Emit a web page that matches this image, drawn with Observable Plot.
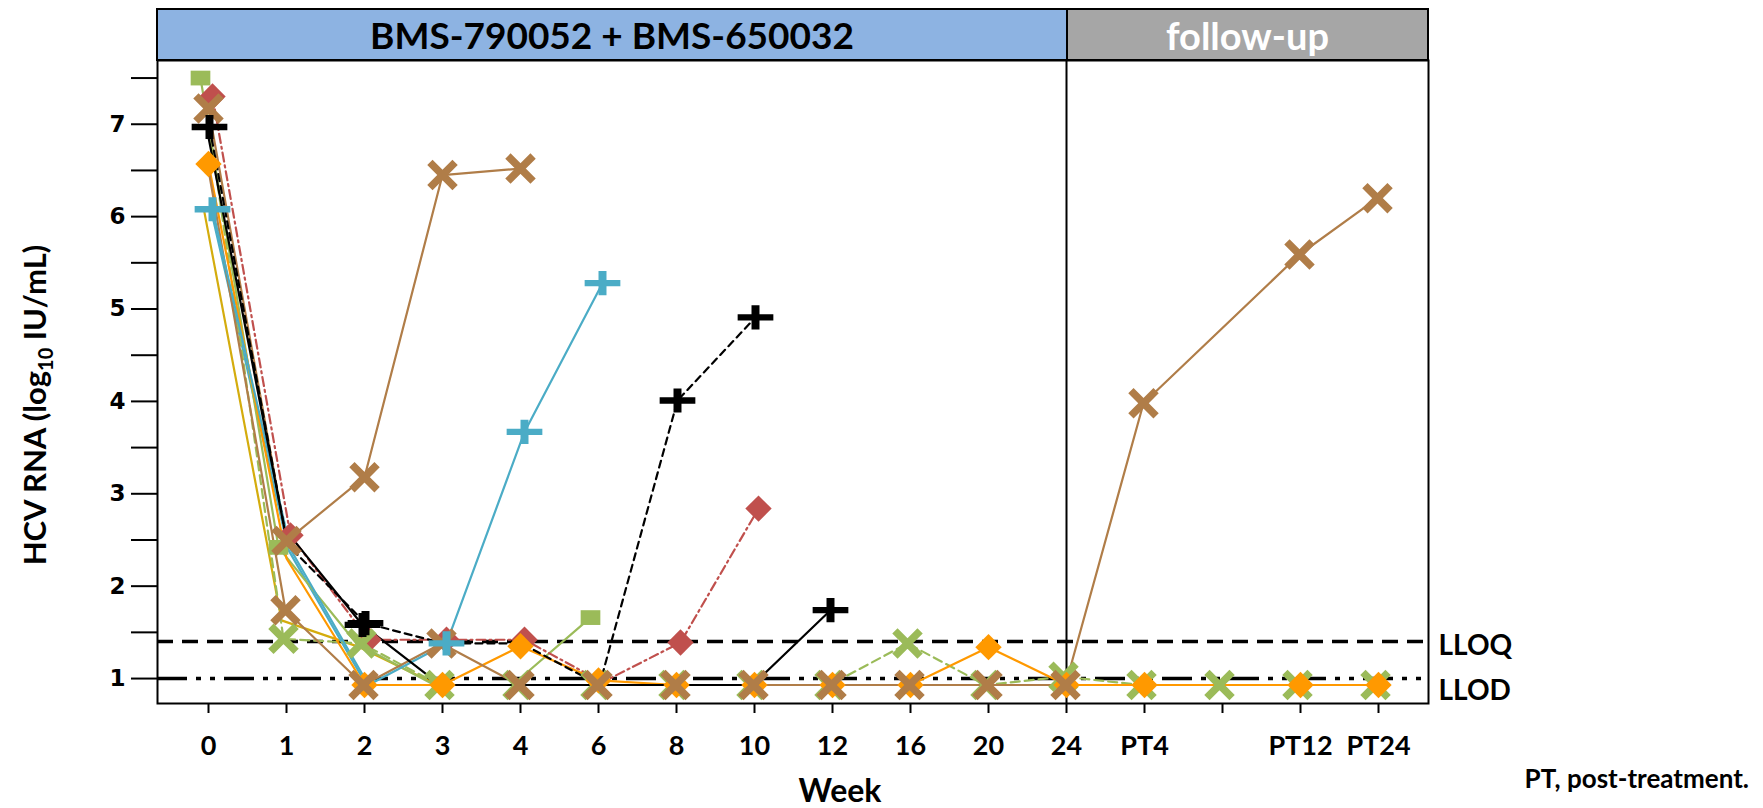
<!DOCTYPE html>
<html><head><meta charset="utf-8">
<script src="https://cdn.jsdelivr.net/npm/d3@7"></script>
<script src="https://cdn.jsdelivr.net/npm/@observablehq/plot@0.6"></script>
<style>
body{margin:0;background:#fff;}
#wrap{position:relative;width:1763px;height:808px;overflow:hidden;font-family:Lato,"Open Sans",sans-serif;font-weight:700;}
#wrap svg{position:absolute;left:0;top:0;}
.abs{position:absolute;white-space:nowrap;line-height:1;}
#hdr{position:absolute;box-sizing:border-box;border:2px solid #000;display:flex;}
#h1{background:#8DB3E2;color:#000;display:flex;align-items:center;justify-content:center;font-size:37px;}
#h2{background:#A6A6A6;color:#fff;display:flex;align-items:center;justify-content:center;font-size:38px;border-left:2px solid #000;box-sizing:border-box;}
#ylab{transform:translate(-50%,-50%) rotate(-90deg);}
#ylab sub{font-size:20px;vertical-align:-7px;line-height:0;}
</style></head><body><div id="wrap"></div>
<script>
// categories
const weeks = ["0","1","2","3","4","6","8","10","12","16","20","24","PT4","PT8","PT12","PT24"];
const tickLabels = ["0","1","2","3","4","6","8","10","12","16","20","24","PT4","","PT12","PT24"];
const yTicks = [1,2,3,4,5,6,7];
const yMinorTicks = [1.5,2.5,3.5,4.5,5.5,6.5,7.5];
const LLOQ = 1.4, LLOD = 1.0;

// log10 HCV RNA per patient (null = no sample)
const ptK = [6.10, 1.63, 1.34, 0.93, 0.93, 0.93, 0.93, 0.93, 0.93, 0.93, 0.93, 0.93, 0.93, null, 0.93, 0.93];
const ptJ = [6.10, 2.39, 0.93, 0.93, 0.93, 0.93, 0.93, 0.93, 0.93, 0.93, 0.93, 0.93, 0.93, null, 0.93, 0.93];
const ptD = [7.50, 2.42, 1.38, 0.93, 0.93, 1.66, null, null, null, null, null, null, null, null, null, null];
const ptF = [7.30, 2.55, 1.42, 1.42, 1.42, 0.96, 1.39, 2.84, null, null, null, null, null, null, null, null];
const ptE = [6.97, 2.45, 1.60, 1.38, 1.38, 0.93, 4.01, 4.91, null, null, null, null, null, null, null, null];
const ptG = [6.97, 2.62, 1.58, 0.93, 0.93, 0.93, 0.93, 0.93, 1.74, null, null, null, null, null, null, null];
const ptI = [7.25, 1.43, 1.38, 0.93, 0.93, 0.93, 0.93, 0.93, 0.93, 1.38, 0.93, 1.02, 0.93, 0.93, 0.93, 0.93];
const ptC = [6.57, 2.30, 0.93, 0.93, 1.35, 0.98, 0.93, 0.93, 0.93, 0.93, 1.34, 0.93, 0.93, null, 0.93, 0.93];
const ptH = [6.57, 1.74, 0.93, 1.38, 0.93, 0.93, 0.93, 0.93, 0.93, 0.93, 0.93, 0.93, 3.98, null, 5.59, 6.20];
const ptA = [7.17, 2.49, 3.18, 6.45, 6.52, null, null, null, null, null, null, null, null, null, null, null];
const ptB = [6.08, 2.40, 0.93, 1.38, 3.67, 5.28, null, null, null, null, null, null, null, null, null, null];

const plusSym = {draw(ctx, size){ const r = Math.sqrt(size/Math.PI);
  const a=1.7*r, t=0.3*r, b=1.15*r, u=0.38*r;
  ctx.moveTo(-a,-t); ctx.lineTo(a,-t); ctx.lineTo(a,t); ctx.lineTo(-a,t); ctx.closePath();
  ctx.moveTo(-u,-b); ctx.lineTo(u,-b); ctx.lineTo(u,b); ctx.lineTo(-u,b); ctx.closePath(); }};
const rectSym = {draw(ctx, size){ const r = Math.sqrt(size/Math.PI);
  const a=1.2*r, b=0.9*r;
  ctx.moveTo(-a,-b); ctx.lineTo(a,-b); ctx.lineTo(a,b); ctx.lineTo(-a,b); ctx.closePath(); }};

// series styles (drawing order)
const series = [
  {id:"K", values:ptK, color:"#D4AC0D", marker:null, dash:null, floor:false, dx:-5},
  {id:"J", values:ptJ, color:"#4BACC6", marker:null, dash:null, floor:false, dx:2},
  {id:"D", values:ptD, color:"#9BBB59", marker:"square", dash:null, floor:false, dx:-8},
  {id:"F", values:ptF, color:"#C0504D", marker:"diamond", dash:"9,4,2,4", floor:false, dx:4},
  {id:"I", values:ptI, color:"#9BBB59", marker:"times", dash:"9,5", floor:true, dx:-3},
  {id:"C", values:ptC, color:"#FF9900", marker:"diamond", dash:null, floor:true, dx:0},
  {id:"H", values:ptH, color:"#B07D48", marker:"times", dash:null, floor:true, dx:-1},
  {id:"A", values:ptA, color:"#B07D48", marker:"times", dash:null, floor:false, dx:0},
  {id:"B", values:ptB, color:"#4BACC6", marker:"plus", dash:null, floor:false, dx:4},
  {id:"E", values:ptE, color:"#000000", marker:"plus", dash:"7,5", floor:false, dx:1},
  {id:"G", values:ptG, color:"#000000", marker:"plus", dash:null, floor:false, dx:-2}
];
const hiddenMarkers = [["E","1"],["G","1"],["G","0"],["B","1"],["D","2"],["I","0"],["H","0"],["C","1"],["E","3"],["E","4"]];

function rowsOf(s){
  return weeks.map((w,i)=>({week:w, value:s.values[i]})).filter(d=>d.value!=null);
}
const lineMarks = series.map(s => Plot.line(rowsOf(s), {x:"week", y:"value", stroke:s.color, strokeWidth:2.2,
  strokeDasharray:s.dash||undefined, dx:s.dx}));
const dotMarks = series.filter(s=>s.marker).map(s => {
  const pts = rowsOf(s).filter(d => (s.floor || d.value > LLOD) && !hiddenMarkers.some(h=>h[0]===s.id && h[1]===d.week));
  if (s.marker==="times") return Plot.dot(pts, {x:"week", y:"value", symbol:"times", r:11.5, stroke:s.color, strokeWidth:7.5, dx:s.dx});
  if (s.marker==="plus") return Plot.dot(pts, {x:"week", y:"value", symbol:plusSym, r:10.5, fill:s.color, stroke:"none", dx:s.dx});
  if (s.marker==="square") return Plot.dot(pts, {x:"week", y:"value", symbol:rectSym, r:8.2, fill:s.color, stroke:"none", dx:s.dx});
  return Plot.dot(pts, {x:"week", y:"value", symbol:"square", rotate:45, r:10.5, fill:s.color, stroke:"none", dx:s.dx});
});

const chart = Plot.plot({
  width:1763, height:808,
  marginLeft:157, marginRight:335, marginTop:60, marginBottom:105,
  x:{type:"point", domain:weeks, padding:0.6},
  y:{domain:[0.73,7.69]},
  style:{fontFamily:"Lato, sans-serif", background:"transparent", overflow:"visible"},
  marks:[
    Plot.ruleY([LLOQ], {stroke:"#000", strokeWidth:3.5, strokeDasharray:"16,9"}),
    Plot.ruleY([LLOD], {stroke:"#000", strokeWidth:3.5, strokeDasharray:"30,9,5,9,5,9"}),
    ...lineMarks,
    Plot.ruleX(["24"], {stroke:"#000", strokeWidth:2}),
    ...dotMarks,
    Plot.frame({stroke:"#000", strokeWidth:2}),
    Plot.axisY({ticks:yTicks, tickSize:26, tickPadding:6, strokeWidth:2, label:null,
      fontSize:23, fontWeight:"bold", fontFamily:"DejaVu Sans", tickFormat:d=>String(d)}),
    Plot.axisY({ticks:yMinorTicks, tickSize:26, strokeWidth:2, label:null, tickFormat:()=>""}),
    Plot.axisX({ticks:weeks, tickSize:10, tickPadding:22, strokeWidth:2, label:null,
      fontSize:27, fontWeight:"bold", tickFormat:(d)=>tickLabels[weeks.indexOf(d)]}),
    Plot.text([{y:LLOQ, t:"LLOQ", o:4}, {y:LLOD, t:"LLOD", o:11}], {y:"y", text:"t", frameAnchor:"right", textAnchor:"start",
      dx:10, dy:4, fontSize:28, fontWeight:"bold", fill:"#000"})
  ]
});
const wrap = document.getElementById("wrap");
wrap.appendChild(chart);
// nudge LLOD label below its line as in the original
chart.querySelectorAll("text").forEach(t => { if (t.textContent === "LLOD") t.setAttribute("transform", (t.getAttribute("transform")||"") + " translate(0,8)"); });

const x = chart.scale("x");
const x24 = x.apply("24");
const left = 157, right = 1763-335;

const hdr = document.createElement("div");
hdr.id = "hdr";
hdr.style.left = (left-1)+"px"; hdr.style.top = "8px";
hdr.style.width = (right-left+2)+"px"; hdr.style.height = "53px";
hdr.innerHTML = `<div id="h1" style="width:${x24-left-1}px">BMS-790052 + BMS-650032</div><div id="h2" style="flex:1">follow-up</div>`;
wrap.appendChild(hdr);

function addText(html, css){ const d=document.createElement("div"); d.className="abs"; d.innerHTML=html; Object.assign(d.style, css); wrap.appendChild(d); return d; }
addText("Week", {left:"840px", top:"790px", transform:"translate(-50%,-50%)", fontSize:"32px"});
const yl = addText("HCV RNA (log<sub>10</sub> IU/mL)", {left:"34px", top:"405px", fontSize:"31px"});
yl.id = "ylab";
addText("PT, post-treatment.", {right:"14px", top:"778px", transform:"translateY(-50%)", fontSize:"26px"});
</script></body></html>
